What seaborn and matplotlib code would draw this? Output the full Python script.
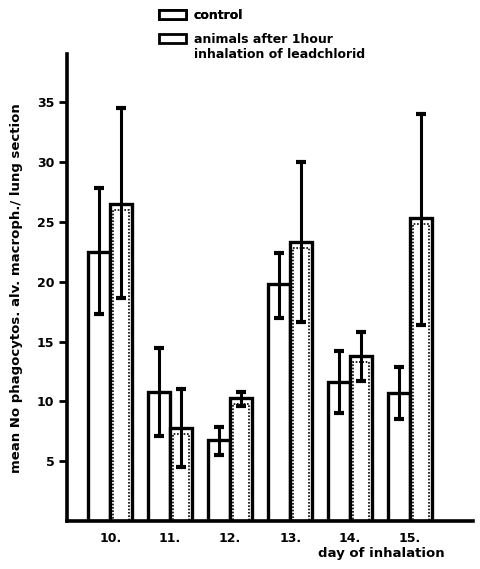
import matplotlib
matplotlib.use("Agg")
import matplotlib.pyplot as plt
from matplotlib.patches import Patch
import numpy as np
import pandas as pd
import seaborn as sns

# Day labels and group names
days = ["10.", "11.", "12.", "13.", "14.", "15."]
groups = ["control", "animals after 1hour"]

# Mean values per day
control_mean = [22.5, 10.8, 6.8, 19.8, 11.6, 10.7]
treated_mean = [26.5, 7.8, 10.3, 23.3, 13.8, 25.3]

# Error bar ends (lower / upper)
control_low = [17.3, 7.1, 5.5, 17.0, 9.0, 8.5]
control_high = [27.8, 14.5, 7.85, 22.4, 14.2, 12.9]
treated_low = [18.6, 4.5, 9.6, 16.6, 11.7, 16.4]
treated_high = [34.5, 11.0, 10.8, 30.0, 15.8, 34.0]

yticks = [5, 10, 15, 20, 25, 30, 35]

df = pd.DataFrame({
    "day": days * 2,
    "group": [groups[0]] * len(days) + [groups[1]] * len(days),
    "value": control_mean + treated_mean,
})

sns.set_theme(style="white")
plt.rcParams["font.family"] = ["DejaVu Sans"]
plt.rcParams["font.weight"] = "bold"
for key in ["text.color", "axes.labelcolor", "xtick.color", "ytick.color"]:
    plt.rcParams[key] = "black"

fig = plt.figure(figsize=(4.8, 5.69), dpi=100)
ax = fig.add_axes([0.1396, 0.0844, 0.846, 0.82])

sns.barplot(data=df, x="day", y="value", hue="group", order=days,
            hue_order=groups, palette=["white", "white"], width=0.74,
            errorbar=None, edgecolor="black", linewidth=2.4, legend=False,
            ax=ax)

# Dotted inner outline on the treated bars
sns.barplot(data=df[df.group == groups[1]], x="day", y="value", order=days,
            color="white", width=0.26, errorbar=None, edgecolor="black",
            linewidth=1.2, linestyle=(0, (1, 1)), ax=ax)
inner = ax.patches[2 * len(days):]
for p in inner:
    p.set_x(p.get_x() + 0.185)
    p.set_height(p.get_height() - 0.5)
    p.set_facecolor("none")

bars = ax.patches[:2 * len(days)]
ctrl_bars = bars[:len(days)]
trt_bars = bars[len(days):]

for bset, mean, lo, hi in [(ctrl_bars, control_mean, control_low, control_high),
                           (trt_bars, treated_mean, treated_low, treated_high)]:
    xs = [b.get_x() + b.get_width() / 2 for b in bset]
    m = np.array(mean)
    yerr = np.vstack([m - np.array(lo), np.array(hi) - m])
    ax.errorbar(xs, m, yerr=yerr, fmt="none", ecolor="black",
                elinewidth=2.2, capsize=3.5, capthick=3)

ax.set_xlim(-0.72, 6.05)
ax.set_ylim(0, 39)
ax.set_yticks(yticks)
ax.set_yticklabels([str(t) for t in yticks], fontsize=9, fontweight="bold")
ax.set_xticklabels(days, fontsize=9, fontweight="bold")
ax.tick_params(axis="y", direction="out", length=6, width=2, left=True, pad=3)
ax.tick_params(axis="x", length=0, pad=8)

for s in ["top", "right"]:
    ax.spines[s].set_visible(False)
for s in ["left", "bottom"]:
    ax.spines[s].set_linewidth(2.6)
    ax.spines[s].set_color("black")

ax.set_ylabel("mean No phagocytos. alv. macroph./ lung section",
              fontsize=9.5, fontweight="bold", labelpad=10)
ax.set_xlabel("")
fig.text(0.795, 0.016, "day of inhalation", fontsize=9.5, fontweight="bold",
         ha="center", va="bottom")

legend_kw = dict(frameon=False, handlelength=2.2, handleheight=0.75,
                 handletextpad=0.6, borderpad=0.0,
                 prop={"weight": "bold", "size": 9})

leg1 = fig.legend([Patch(facecolor="white", edgecolor="black", linewidth=2)],
                  ["control"], loc="upper left",
                  bbox_to_anchor=(0.318, 0.995), labelspacing=0.3, **legend_kw)
fig.add_artist(leg1)
fig.legend([Patch(facecolor="white", edgecolor="black", linewidth=2),
            Patch(facecolor="none", edgecolor="none")],
           ["animals after 1hour", "inhalation of leadchlorid"],
           loc="upper left", bbox_to_anchor=(0.318, 0.953),
           labelspacing=0.15, **legend_kw)

fig.savefig("out.png", dpi=100)
